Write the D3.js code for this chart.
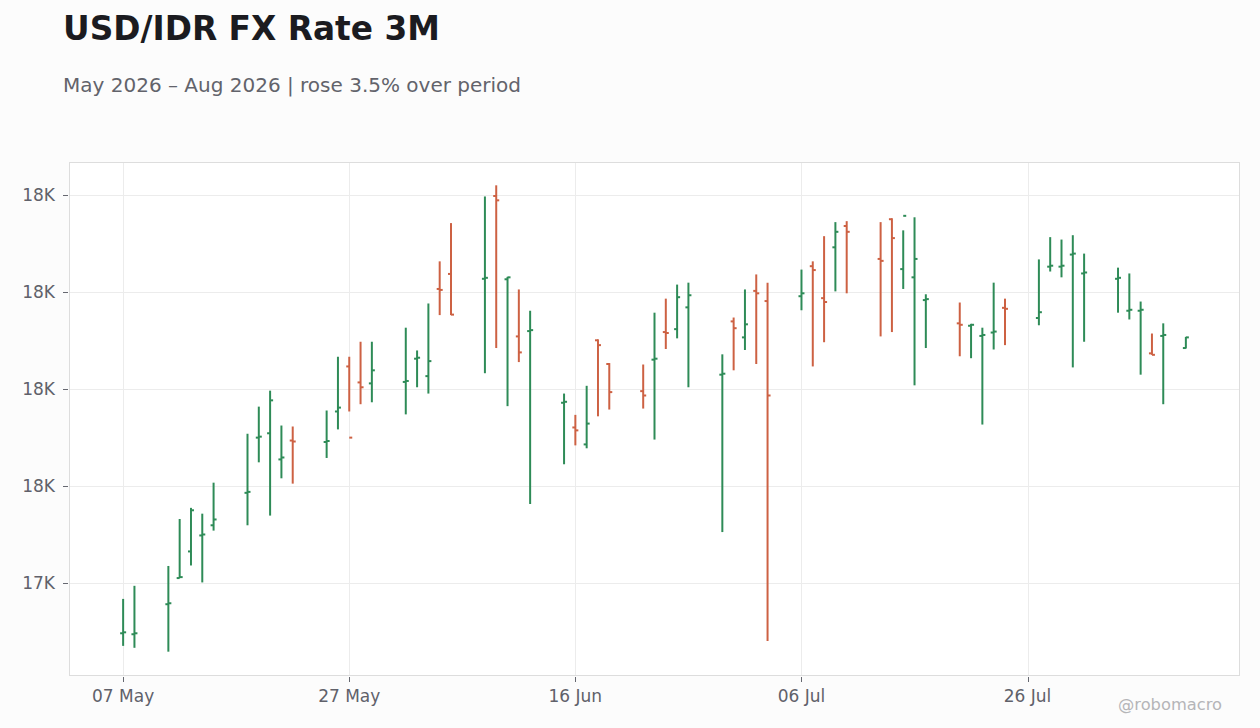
<!DOCTYPE html>
<html>
<head>
<meta charset="utf-8">
<script src="https://cdn.jsdelivr.net/npm/d3@7"></script>
<style>
  html, body { margin: 0; padding: 0; background: #fcfcfc; }
  svg { display: block; font-family: "DejaVu Sans", sans-serif; }
</style>
</head>
<body>
<svg id="chart" width="1260" height="728"></svg>
<script>
// ---- data ----
const dates = [
  "2026-05-07","2026-05-08",
  "2026-05-11","2026-05-12","2026-05-13","2026-05-14","2026-05-15",
  "2026-05-18","2026-05-19","2026-05-20","2026-05-21","2026-05-22",
  "2026-05-25","2026-05-26","2026-05-27","2026-05-28","2026-05-29",
  "2026-06-01","2026-06-02","2026-06-03","2026-06-04","2026-06-05",
  "2026-06-08","2026-06-09","2026-06-10","2026-06-11","2026-06-12",
  "2026-06-15","2026-06-16","2026-06-17","2026-06-18","2026-06-19",
  "2026-06-22","2026-06-23","2026-06-24","2026-06-25","2026-06-26",
  "2026-06-29","2026-06-30","2026-07-01","2026-07-02","2026-07-03",
  "2026-07-06","2026-07-07","2026-07-08","2026-07-09","2026-07-10",
  "2026-07-13","2026-07-14","2026-07-15","2026-07-16","2026-07-17",
  "2026-07-20","2026-07-21","2026-07-22","2026-07-23","2026-07-24",
  "2026-07-27","2026-07-28","2026-07-29","2026-07-30","2026-07-31",
  "2026-08-03","2026-08-04","2026-08-05","2026-08-06","2026-08-07",
  "2026-08-09"
];
const open = [
  17296,17294,
  17356,17410,17465,17498,17519,
  17586,17700,17709,17655,17694,
  17691,17754,17847,17814,17812,
  17815,17863,17827,18007,18038,
  18028,18199,18027,17909,17920,
  17772,17721,17686,17901,17852,
  17796,17861,17918,17924,17969,
  17830,17940,17907,18003,17982,
  17992,18054,17988,18093,18137,
  18069,18151,18048,18031,17984,
  17936,17931,17910,17917,17968,
  17947,18053,18053,18078,18039,
  18028,17962,17962,17874,17910,
  17885
];
const high = [
  17367,17394,
  17435,17532,17555,17543,17607,
  17708,17764,17797,17725,17723,
  17756,17867,17867,17898,17898,
  17927,17880,17977,18064,18143,
  18198,18221,18032,18006,17962,
  17791,17747,17807,17903,17854,
  17851,17958,17987,18016,18020,
  17872,17948,18006,18037,18020,
  18047,18064,18116,18145,18147,
  18145,18153,18128,18155,17996,
  17979,17935,17927,18020,17987,
  18068,18114,18109,18118,18080,
  18051,18039,17981,17915,17936,
  17908
];
const low = [
  17270,17266,
  17258,17410,17436,17401,17508,
  17519,17649,17539,17616,17605,
  17658,17717,17754,17769,17773,
  17748,17804,17791,17953,17953,
  17833,17885,17765,17856,17563,
  17645,17684,17678,17744,17758,
  17760,17696,17883,17905,17804,
  17505,17839,17881,17852,17280,
  17963,17847,17897,18002,17998,
  17909,17918,18007,17808,17885,
  17868,17864,17727,17882,17891,
  17932,18043,18031,17845,17898,
  17958,17944,17830,17871,17769,
  17884
];
const close = [
  17298,17296,
  17358,17412,17550,17500,17531,
  17588,17702,17777,17659,17692,
  17693,17762,17700,17804,17839,
  17817,17865,17858,18005,17954,
  18030,18190,18031,17876,17922,
  17774,17715,17729,17891,17794,
  17787,17863,17916,17990,17994,
  17832,17926,17934,17998,17787,
  17998,18046,17980,18125,18125,
  18065,18112,18158,18069,17986,
  17933,17933,17912,17919,17966,
  17959,18055,18055,18080,18041,
  18030,17964,17964,17871,17912,
  17907
];
const yTicks = [17400, 17600, 17800, 18000, 18200];
const xTicks = ["2026-05-07","2026-05-27","2026-06-16","2026-07-06","2026-07-26"];

const title = "USD/IDR FX Rate 3M";
const subtitle = "May 2026 – Aug 2026 | rose 3.5% over period";
const watermark = "@robomacro";

// ---- build ----
const parse = d3.utcParse("%Y-%m-%d");
const rows = dates.map((d, i) => ({
  date: parse(d), o: open[i], h: high[i], l: low[i], c: close[i]
}));

const svg = d3.select("#chart");
const plot = { left: 70, right: 1239, top: 162, bottom: 675 };

const dExt = d3.extent(rows, r => r.date);
const span = dExt[1] - dExt[0];
const x = d3.scaleUtc()
  .domain([new Date(+dExt[0] - span * 0.05), new Date(+dExt[1] + span * 0.05)])
  .range([plot.left, plot.right]);

const yMin = d3.min(rows, r => Math.min(r.l, r.o, r.c));
const yMax = d3.max(rows, r => Math.max(r.h, r.o, r.c));
const yPad = (yMax - yMin) * 0.05;
const y = d3.scaleLinear()
  .domain([yMin - yPad, yMax + yPad])
  .range([plot.bottom, plot.top]);

const upColor = "#2e8b57";
const downColor = "#cd6143";

// plot background
svg.append("rect")
  .attr("x", plot.left - 0.5).attr("y", plot.top + 0.5)
  .attr("width", plot.right - plot.left + 1).attr("height", plot.bottom - plot.top)
  .attr("fill", "#ffffff");

// grid
const grid = svg.append("g");
grid.selectAll("line.h").data(yTicks).join("line")
  .attr("x1", plot.left).attr("x2", plot.right)
  .attr("y1", d => Math.round(y(d)) + 0.5).attr("y2", d => Math.round(y(d)) + 0.5)
  .attr("stroke", "#ececec").attr("stroke-width", 1);
grid.selectAll("line.v").data(xTicks.map(parse)).join("line")
  .attr("x1", d => Math.round(x(d)) + 0.5).attr("x2", d => Math.round(x(d)) + 0.5)
  .attr("y1", plot.top).attr("y2", plot.bottom)
  .attr("stroke", "#ececec").attr("stroke-width", 1);

// border
svg.append("rect")
  .attr("x", plot.left - 0.5).attr("y", plot.top + 0.5)
  .attr("width", plot.right - plot.left + 1).attr("height", plot.bottom - plot.top)
  .attr("fill", "none").attr("stroke", "#dddddd").attr("stroke-width", 1);

// y axis ticks + labels
const yFmt = v => d3.format(".2s")(v).replace("k", "K");
const yAx = svg.append("g");
yAx.selectAll("line").data(yTicks).join("line")
  .attr("x1", 63).attr("x2", 68)
  .attr("y1", d => Math.round(y(d)) + 0.5).attr("y2", d => Math.round(y(d)) + 0.5)
  .attr("stroke", "#666870").attr("stroke-width", 1);
yAx.selectAll("text").data(yTicks).join("text")
  .attr("x", 55).attr("y", d => y(d)).attr("dy", "0.35em")
  .attr("text-anchor", "end").attr("font-size", 17).attr("fill", "#60616a")
  .text(yFmt);

// x axis ticks + labels
const xFmt = d3.utcFormat("%d %b");
const xAx = svg.append("g");
xAx.selectAll("line").data(xTicks.map(parse)).join("line")
  .attr("x1", d => Math.round(x(d)) + 0.5).attr("x2", d => Math.round(x(d)) + 0.5)
  .attr("y1", 677).attr("y2", 682)
  .attr("stroke", "#666870").attr("stroke-width", 1);
xAx.selectAll("text").data(xTicks.map(parse)).join("text")
  .attr("x", d => x(d)).attr("y", 702)
  .attr("text-anchor", "middle").attr("font-size", 17).attr("fill", "#60616a")
  .text(xFmt);

// OHLC bars
const bars = svg.append("g").selectAll("g").data(rows).join("g")
  .attr("stroke", d => d.c >= d.o ? upColor : downColor)
  .attr("stroke-width", 2);
bars.append("line")
  .attr("x1", d => x(d.date)).attr("x2", d => x(d.date))
  .attr("y1", d => y(d.l)).attr("y2", d => y(d.h));
bars.append("line")
  .attr("x1", d => x(d.date) - 3).attr("x2", d => x(d.date))
  .attr("y1", d => y(d.o)).attr("y2", d => y(d.o));
bars.append("line")
  .attr("x1", d => x(d.date)).attr("x2", d => x(d.date) + 3)
  .attr("y1", d => y(d.c)).attr("y2", d => y(d.c));

// titles
svg.append("text").attr("x", 63).attr("y", 40)
  .attr("font-size", 32.8).attr("font-weight", "bold").attr("fill", "#1b1b20")
  .text(title);
svg.append("text").attr("x", 63).attr("y", 92)
  .attr("font-size", 20).attr("fill", "#62636b")
  .text(subtitle);
svg.append("text").attr("x", 1222).attr("y", 710)
  .attr("text-anchor", "end").attr("font-size", 16.3).attr("fill", "#b5b5b8")
  .text(watermark);
</script>
</body>
</html>
